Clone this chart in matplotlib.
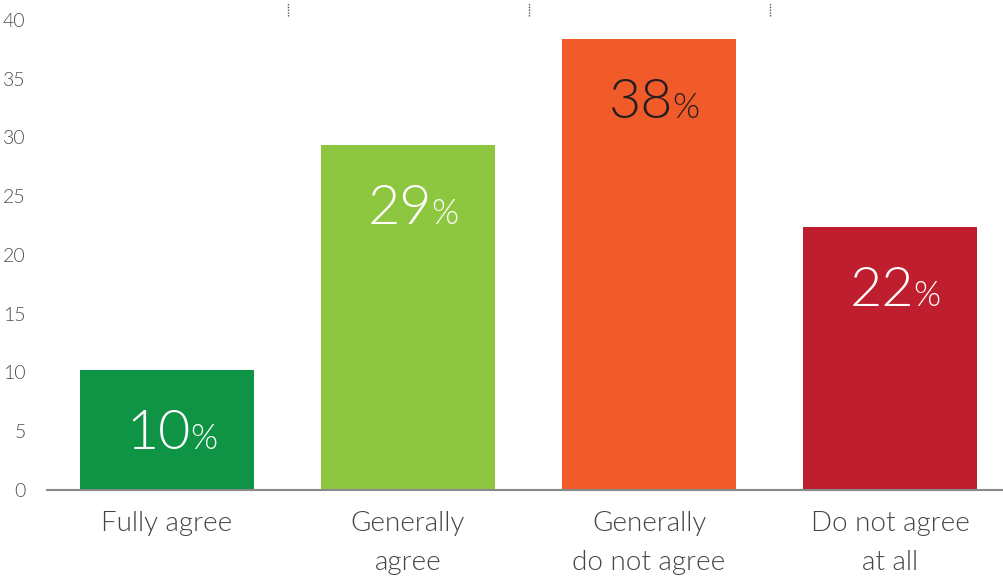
import matplotlib
matplotlib.use("Agg")
import matplotlib.pyplot as plt

categories = ["Fully agree", "Generally\nagree", "Generally\ndo not agree", "Do not agree\nat all"]
shares = [10.2, 29.4, 38.4, 22.4]
bar_colors = ["#0e9444", "#8dc63f", "#f15a29", "#be1e2d"]
label_colors = ["white", "white", "#231f20", "white"]
yticks = [0, 5, 10, 15, 20, 25, 30, 35, 40]

plt.rcParams["font.family"] = ["Lato", "DejaVu Sans"]

fig = plt.figure(figsize=(10.04, 5.78), dpi=100)
ax = fig.add_axes([46.5 / 1004, 88 / 578, 964 / 1004, 490 / 578])

x = range(len(categories))
ax.bar(x, shares, width=0.72, color=bar_colors, zorder=2)

ax.set_xlim(-0.5, 3.5)
ax.set_ylim(0, 41.7)
ax.set_yticks(yticks)
ax.set_yticklabels([str(t) for t in yticks], fontsize=14, color="#4d4d4d", fontweight=300)
ax.set_xticks(list(x))
ax.set_xticklabels(categories, fontsize=20, color="#444444", fontweight=300, linespacing=1.7)
ax.tick_params(axis="y", length=0, pad=15)
ax.tick_params(axis="x", length=0, pad=15)

for side in ["left", "right", "top"]:
    ax.spines[side].set_visible(False)
ax.spines["bottom"].set_color("#8a8a8a")
ax.spines["bottom"].set_linewidth(1.5)

# small dotted separators between categories at the top
for b in [0.5, 1.5, 2.5]:
    ax.plot([b, b], [40.3, 41.5], linestyle=(0, (1, 1)), color="#555555", lw=1, clip_on=False)

# value labels: big number plus small percent sign
for i, v in enumerate(shares):
    ax.annotate(f"{v:.0f}", (i, v), xytext=(24, -79), textcoords="offset pixels",
                ha="right", va="baseline", fontsize=40, color=label_colors[i], fontweight=300)
    ax.annotate("%", (i, v), xytext=(23, -79), textcoords="offset pixels",
                ha="left", va="baseline", fontsize=25, color=label_colors[i], fontweight=300)

fig.savefig("out.png", dpi=100)
